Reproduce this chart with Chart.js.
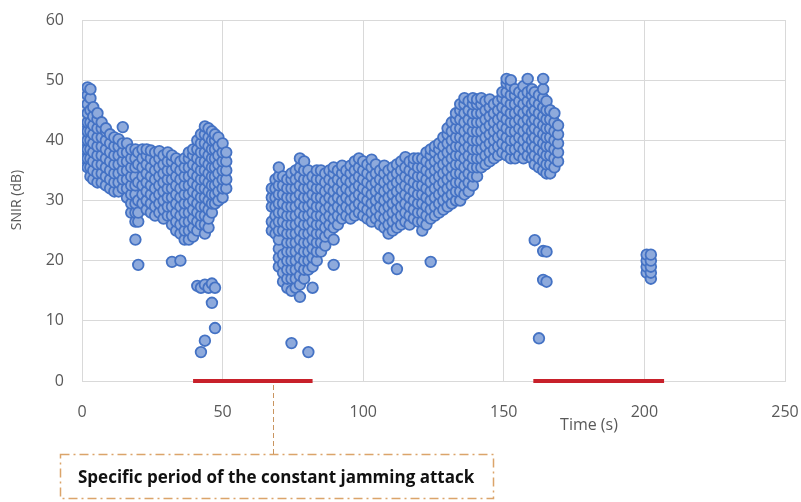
<!DOCTYPE html>
<html>
<head>
<meta charset="utf-8">
<script src="https://cdn.jsdelivr.net/npm/chart.js@4"></script>
<style>
  html, body { margin: 0; padding: 0; background: #fff; }
  #chart { display: block; }
</style>
</head>
<body>
<canvas id="chart" width="801" height="502"></canvas>
<script>
// Sample times (s) and the SNIR readings (dB) logged at each of them
const sampleTimes = [
  0, 1, 2, 3, 4, 5.5, 7, 8.5, 10, 11.5, 13, 14.5, 16, 17.5, 19, 20, 21.5, 23, 24.5, 26,
  27.5, 29, 30.5, 32, 33.5, 35, 36.5, 38, 39.5, 41, 42.3, 43.7, 45, 46.2, 47.3, 48.5, 50, 51.3,
  67.5, 68.8, 70, 71.5, 73, 74.5, 76, 77.5, 79, 80.5, 82, 83.5, 85, 86.5, 88, 89.5,
  91, 92.5, 94, 95.5, 97, 98.5, 100, 101.5, 103, 104.5, 106, 107.5, 109, 110.5, 112, 113.5,
  115, 116.5, 118, 119.5, 121, 122.5, 124, 125.5, 127, 128.5, 130, 131.5, 133, 134.5,
  136, 137.5, 139, 140.5, 142, 143.5, 145, 146.5, 148, 149.5, 151, 152.5, 154, 155.5,
  157, 158.5, 160, 161, 162.5, 164, 165.2, 166.5, 168, 169.3,
  200.8, 202.3
];

const snirReadings = [
  [38.5, 39.5, 40.5, 41],
  [37, 38.5, 40, 41.5, 40.8],
  [35.5, 37, 38.5, 40, 41.5, 43, 44.5, 46, 47.5, 48.8],
  [34, 35.5, 37, 38.5, 40, 41.5, 43, 45, 47, 48.5],
  [33.5, 35, 36.5, 38, 39.5, 41, 42.5, 44, 45.5],
  [33, 34.5, 36, 37.5, 39, 40.5, 42, 43.5, 44.5],
  [33, 34.5, 36, 37.5, 39, 40.5, 42, 43],
  [32.5, 34, 35.5, 37, 38.5, 40, 41.5, 42],
  [32, 33.5, 35, 36.5, 38, 39.5, 41],
  [31.5, 33, 34.5, 36, 37.5, 39, 40.5],
  [31.5, 33, 34.5, 36, 37.5, 39, 40.2],
  [32, 33.5, 35, 36.5, 38, 39.5, 42.2],
  [30.5, 32, 33.5, 35, 36.5, 38, 39.5],
  [28, 29.5, 31, 32.5, 34, 35.5, 37, 38.5],
  [23.5, 26.5, 28, 29.5, 31, 32.5, 34, 35.5, 37, 38.5],
  [19.3, 26.5, 28, 30, 33, 36, 38],
  [29.5, 31, 32.5, 34, 35.5, 37, 38.5],
  [28.5, 30, 31.5, 33, 34.5, 36, 37.5, 38.5],
  [28, 29.5, 31, 32.5, 34, 35.5, 37, 38.3],
  [27.5, 29, 30.5, 32, 33.5, 35, 36.5, 38],
  [28, 29.5, 31, 32.5, 34, 35.5, 37, 38.2],
  [27, 28.5, 30, 31.5, 33, 34.5, 36, 37.5],
  [27.5, 29, 30.5, 32, 33.5, 35, 36.5, 38],
  [19.8, 26, 27.5, 29, 30.5, 32, 33.5, 35, 36.5, 37.5],
  [25, 26.5, 28, 29.5, 31, 32.5, 34, 35.5, 37],
  [20, 24.5, 26, 27.5, 29, 30.5, 32, 33.5, 35, 36.5],
  [23.5, 25, 26.5, 28, 29.5, 31, 32.5, 34, 35.5, 37],
  [23.5, 25, 26.5, 28, 29.5, 31, 32.5, 34, 35.5, 37, 38],
  [24, 25.5, 27, 28.5, 30, 31.5, 33, 34.5, 36, 37.5, 38.5],
  [15.8, 25, 26.5, 28, 29.5, 31, 32.5, 34, 35.5, 37, 38.5, 40],
  [4.8, 15.5, 26, 27.5, 29, 30.5, 32, 33.5, 35, 36.5, 38, 39.5, 41],
  [6.7, 16, 24.5, 26, 27.5, 29, 30.5, 32, 33.5, 35, 36.5, 38, 39.5, 41, 42.3],
  [15.5, 25.5, 27, 28.5, 30, 31.5, 33, 34.5, 36, 37.5, 39, 40.5, 42],
  [13, 16.2, 28, 29.5, 31, 32.5, 34, 35.5, 37, 38.5, 40, 41.5],
  [8.8, 15.5, 29.5, 31, 32.5, 34, 35.5, 37, 38.5, 40, 41],
  [30, 31.5, 33, 34.5, 36, 37.5, 39, 40.5],
  [30.5, 32, 33.5, 35, 36.5, 38, 39.5],
  [32, 33.5, 35, 36.5, 38],
  [25, 26.5, 29, 30.5, 32],
  [24.5, 26, 27.5, 29, 30.5, 32, 33.5],
  [19, 20.5, 22, 23.5, 25, 26.5, 28, 29.5, 31, 32.5, 34, 35.5],
  [16.5, 18, 19.5, 21, 25, 26.5, 28, 29.5, 31, 32.5, 34],
  [15.5, 17, 18.5, 20, 21.5, 23, 24.5, 26, 27.5, 29, 30.5, 32, 33.5],
  [6.3, 15, 17, 18.5, 20, 21.5, 23, 24.5, 26, 27.5, 29, 30.5, 32, 33.5, 34.5],
  [15.5, 17, 18.5, 20, 21.5, 23, 24.5, 26, 27.5, 29, 30.5, 32, 33.5, 35],
  [14, 16, 17.5, 19, 20.5, 22, 23.5, 25, 26.5, 28, 29.5, 31, 32.5, 34, 35.5, 37],
  [17, 18.5, 20, 21.5, 23, 24.5, 26, 27.5, 29, 30.5, 32, 33.5, 35, 36.5],
  [4.8, 18.5, 20, 21.5, 23, 24.5, 26, 27.5, 29, 30.5, 32, 33.5, 35],
  [15.5, 19, 20.5, 22, 23.5, 25, 26.5, 28, 29.5, 31, 32.5, 34],
  [20, 21.5, 23, 24.5, 26, 27.5, 29, 30.5, 32, 33.5, 35],
  [21.5, 23, 24.5, 26, 27.5, 29, 30.5, 32, 33.5, 35],
  [22.5, 24, 25.5, 27, 28.5, 30, 31.5, 33, 34.5],
  [24.5, 26, 27.5, 29, 30.5, 32, 33.5, 35],
  [19.3, 23.5, 25.5, 27, 28.5, 30, 31.5, 33, 34.5, 35.5],
  [26, 27.5, 29, 30.5, 32, 33.5, 35],
  [27, 28.5, 30, 31.5, 33, 34.5, 35.8],
  [27.5, 29, 30.5, 32, 33.5, 35],
  [27, 28.5, 30, 31.5, 33, 34.5, 35.8],
  [27.5, 29, 30.5, 32, 33.5, 35, 36.5],
  [28, 29.5, 31, 32.5, 34, 35.5, 37],
  [27.5, 29, 30.5, 32, 33.5, 35, 36.5],
  [27, 28.5, 30, 31.5, 33, 34.5, 36],
  [26.5, 28, 29.5, 31, 32.5, 34, 35.5, 36.8],
  [27, 28.5, 30, 31.5, 33, 34.5, 36],
  [26, 27.5, 29, 30.5, 32, 33.5, 35],
  [25.5, 27, 28.5, 30, 31.5, 33, 34.5, 35.8],
  [20.4, 24.5, 26, 27.5, 29, 30.5, 32, 33.5, 35],
  [25, 26.5, 28, 29.5, 31, 32.5, 34, 35.5],
  [18.6, 25.5, 27, 28.5, 30, 31.5, 33, 34.5, 36],
  [26, 27.5, 29, 30.5, 32, 33.5, 35, 36.5],
  [26.5, 28, 29.5, 31, 32.5, 34, 35.5, 37.2],
  [26, 27.5, 29, 30.5, 32, 33.5, 35, 36.5],
  [27, 28.5, 30, 31.5, 33, 34.5, 36, 37],
  [26.5, 28, 29.5, 31, 32.5, 34, 35.5, 37],
  [25, 26.5, 28, 29.5, 31, 32.5, 34, 35.5, 37],
  [26, 27.5, 29, 30.5, 32, 33.5, 35, 36.5, 38],
  [19.8, 27, 28.5, 30, 31.5, 33, 34.5, 36, 37.5, 38.5],
  [27.5, 29, 30.5, 32, 33.5, 35, 36.5, 38, 39],
  [28, 29.5, 31, 32.5, 34, 35.5, 37, 38.5, 39.5],
  [28.5, 30, 31.5, 33, 34.5, 36, 37.5, 39, 40.5],
  [29, 30.5, 32, 33.5, 35, 36.5, 38, 39.5, 41, 42],
  [29.5, 31, 32.5, 34, 35.5, 37, 38.5, 40, 41.5, 43],
  [30, 31.5, 33, 34.5, 36, 37.5, 39, 40.5, 42, 43.5, 44.5],
  [30, 31.5, 33, 34.5, 36, 37.5, 39, 40.5, 42, 43.5, 45, 46],
  [31, 32.5, 34, 35.5, 37, 38.5, 40, 41.5, 43, 44.5, 46, 47],
  [31.5, 33, 34.5, 36, 37.5, 39, 40.5, 42, 43.5, 45, 46.5],
  [32.5, 34, 35.5, 37, 38.5, 40, 41.5, 43, 44.5, 46, 47],
  [34, 35.5, 37, 38.5, 40, 41.5, 43, 44.5, 46, 46.8],
  [35.5, 37, 38.5, 40, 41.5, 43, 44.5, 46, 47],
  [36, 37.5, 39, 40.5, 42, 43.5, 45, 46.5],
  [36.5, 38, 39.5, 41, 42.5, 44, 45.5, 46.8],
  [37, 38.5, 40, 41.5, 43, 44.5, 46],
  [37.5, 39, 40.5, 42, 43.5, 45, 46.5],
  [38, 39.5, 41, 42.5, 44, 45.5, 47, 48],
  [37.5, 39, 40.5, 42, 43.5, 45, 46.5, 48, 49.5, 50.2],
  [37, 38.5, 40, 41.5, 43, 44.5, 46, 47.5, 49, 50],
  [37, 38.5, 40, 41.5, 43, 44.5, 46, 47.5, 48.5],
  [37.5, 39, 40.5, 42, 43.5, 45, 46.5, 48],
  [37, 38.5, 40, 41.5, 43, 44.5, 46, 47.5, 49],
  [37.5, 39, 40.5, 42, 43.5, 45, 46.5, 48, 50.2],
  [37, 38.5, 40, 41.5, 43, 44.5, 46, 47.5, 48.5],
  [23.4, 36, 37.5, 39, 40.5, 42, 43.5, 45, 46.5, 48],
  [7.1, 35.5, 37, 38.5, 40, 41.5, 43, 44.5, 46, 47.5],
  [16.8, 21.6, 35, 36.5, 38, 39.5, 41, 42.5, 44, 45.5, 47, 48.5, 50.2],
  [16.5, 21.5, 34.5, 36, 37.5, 39, 40.5, 42, 43.5, 45, 46.5],
  [34.5, 36, 37.5, 39, 40.5, 42, 43.5, 45],
  [35.5, 37, 38.5, 40, 41.5, 43, 44.5],
  [36.5, 38, 39.5, 41, 42.5],
  [18, 19, 20, 21],
  [17, 18, 19, 20, 21]
];

// Constant jamming periods (start, end) in seconds, marked on the time axis
const jammingStart = [39.5, 160.5];
const jammingEnd = [82, 207];

const xTicks = [0, 50, 100, 150, 200, 250];
const yTicks = [0, 10, 20, 30, 40, 50, 60];

const annotationText = "Specific period of the constant jamming attack";
const xTitle = "Time (s)";
const yTitle = "SNIR (dB)";

const points = sampleTimes.flatMap((t, i) => snirReadings[i].map(v => ({ x: t, y: v })));

const jamSets = jammingStart.map((s, i) => ({
  type: "line",
  data: [{ x: s, y: 0 }, { x: jammingEnd[i], y: 0 }],
  borderColor: "#c8202a",
  borderWidth: 4,
  pointRadius: 0,
  clip: false,
  order: 2
}));

const grey = "#595959";
const gridGrey = "#d9d9d9";

// Axis titles and the dash-dot callout box
const extrasPlugin = {
  id: "extras",
  afterDraw(chart) {
    const ctx = chart.ctx;
    ctx.save();
    ctx.fillStyle = grey;
    ctx.font = '16px "Open Sans"';
    ctx.textAlign = "center";
    ctx.textBaseline = "middle";
    ctx.fillText(xTitle, 589, 425);

    ctx.translate(17, 200);
    ctx.rotate(-Math.PI / 2);
    ctx.font = '14px "Open Sans"';
    ctx.fillText(yTitle, 0, 0);
    ctx.restore();

    ctx.save();
    ctx.strokeStyle = "#dba46a";
    ctx.lineWidth = 1.5;
    ctx.setLineDash([9, 4, 2, 4]);
    ctx.strokeRect(60.5, 454.5, 433, 44);
    ctx.strokeStyle = "#c99560";
    ctx.lineWidth = 1;
    ctx.setLineDash([5, 3]);
    ctx.beginPath();
    ctx.moveTo(273.5, 385);
    ctx.lineTo(273.5, 454);
    ctx.stroke();
    ctx.setLineDash([]);
    ctx.fillStyle = "#111";
    ctx.font = 'bold 17px "Open Sans"';
    ctx.textAlign = "left";
    ctx.textBaseline = "middle";
    ctx.fillText(annotationText, 78, 478, 410);
    ctx.restore();
  }
};

new Chart(document.getElementById("chart"), {
  type: "scatter",
  data: {
    datasets: [
      {
        data: points,
        backgroundColor: "#8eaadc",
        borderColor: "#4472c4",
        borderWidth: 1.8,
        pointRadius: 5.3,
        pointHoverRadius: 5.3,
        order: 1
      },
      ...jamSets
    ]
  },
  options: {
    responsive: false,
    animation: false,
    layout: { padding: { top: 20, right: 16, left: 0, bottom: 0 } },
    plugins: { legend: { display: false }, tooltip: { enabled: false } },
    scales: {
      x: {
        type: "linear",
        min: 0,
        max: 250,
        afterBuildTicks: s => { s.ticks = xTicks.map(v => ({ value: v })); },
        afterFit: s => { s.height = 121; s.paddingLeft = 0; s.paddingRight = 0; },
        ticks: { color: grey, font: { family: "Open Sans", size: 16 }, padding: 22 },
        grid: { color: gridGrey, drawTicks: false },
        border: { color: gridGrey }
      },
      y: {
        min: 0,
        max: 60,
        afterBuildTicks: s => { s.ticks = yTicks.map(v => ({ value: v })); },
        afterFit: s => { s.width = 82; s.paddingTop = 0; s.paddingBottom = 0; },
        ticks: { color: grey, font: { family: "Open Sans", size: 16 }, padding: 18 },
        grid: { color: gridGrey, drawTicks: false },
        border: { color: gridGrey }
      }
    }
  },
  plugins: [extrasPlugin]
});
</script>
</body>
</html>
